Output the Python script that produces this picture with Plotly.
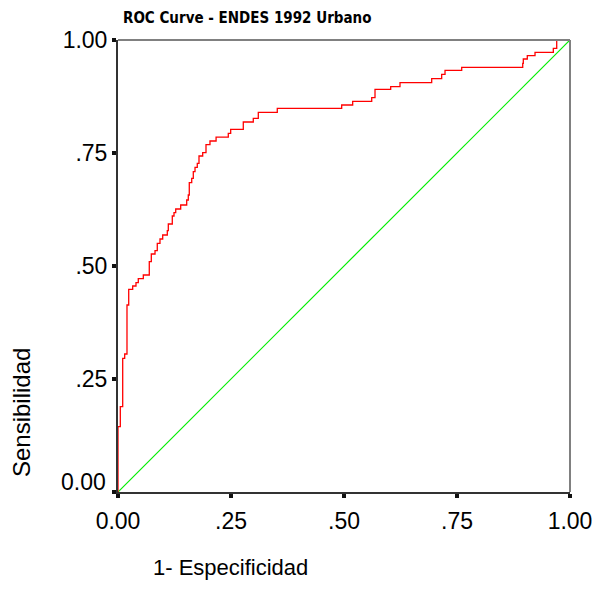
import plotly.graph_objects as go

# ROC step curve (1 - specificity, sensitivity)
fpr = [0.0, 0.0, 0.0051, 0.0104, 0.0148, 0.0199, 0.0237, 0.0325, 0.0398, 0.0449,
       0.0560, 0.0692, 0.0737, 0.0819, 0.0869, 0.0929, 0.0989, 0.1091, 0.1113,
       0.1201, 0.1239, 0.1277, 0.1387, 0.1520, 0.1555, 0.1577, 0.1631, 0.1666,
       0.1704, 0.1754, 0.1792, 0.1874, 0.1947, 0.2035, 0.2170, 0.2440, 0.2493,
       0.2772, 0.2993, 0.3104, 0.3524, 0.4949, 0.5192, 0.5613, 0.5686, 0.6033,
       0.6239, 0.6940, 0.7161, 0.7235, 0.7604, 0.8954, 0.8967, 0.9055, 0.9226,
       0.9631, 0.9706, 1.0]
tpr = [0.0, 0.1445, 0.1887, 0.2958, 0.3053, 0.4137, 0.4485, 0.4558, 0.4631, 0.4719,
       0.4801, 0.5095, 0.5265, 0.5338, 0.5502, 0.5597, 0.5686, 0.5781, 0.5929,
       0.6106, 0.6179, 0.6261, 0.6350, 0.6460, 0.6571, 0.6843, 0.6940, 0.7086,
       0.7184, 0.7272, 0.7434, 0.7507, 0.7684, 0.7765, 0.7850, 0.7936, 0.8024,
       0.8186, 0.8268, 0.8400, 0.8489, 0.8562, 0.8644, 0.8723, 0.8909, 0.8967,
       0.9055, 0.9144, 0.9241, 0.9330, 0.9396, 0.9485, 0.9580, 0.9653, 0.9728,
       0.9816, 1.0, 1.0]

ref_x = [0.0, 1.0]
ref_y = [0.0, 1.0]

tick_vals = [0.0, 0.25, 0.5, 0.75, 1.0]
x_tick_text = ["0.00", ".25", ".50", ".75", "1.00"]
y_tick_text = ["", ".25", ".50", ".75", "1.00"]

title_text = "ROC Curve - ENDES 1992 Urbano"
x_title = "1- Especificidad"
y_title = "Sensibilidad"

FONT = "Liberation Sans, Arial, sans-serif"

fig = go.Figure()
fig.add_trace(go.Scatter(x=ref_x, y=ref_y, mode="lines",
                         line=dict(color="#00ee00", width=1.2), hoverinfo="skip"))
fig.add_trace(go.Scatter(x=fpr, y=tpr, mode="lines", line_shape="hv",
                         line=dict(color="#ff0000", width=1.3)))

axis_common = dict(range=[0, 1], tickvals=tick_vals, showgrid=False, zeroline=False,
                   showline=True, linecolor="#333333", linewidth=2, automargin=False,
                   ticks="outside", ticklen=4, tickwidth=4, tickcolor="#111111",
                   tickfont=dict(family=FONT, size=23, color="#000000"))

fig.update_layout(
    width=598, height=609,
    margin=dict(l=118, r=28, t=40, b=117),
    paper_bgcolor="white", plot_bgcolor="white",
    showlegend=False,
    xaxis=dict(**axis_common, ticktext=x_tick_text, ticklabelstandoff=3),
    yaxis=dict(**axis_common, ticktext=y_tick_text),
    shapes=[
        dict(type="line", xref="paper", yref="paper", x0=0, x1=1, y0=1, y1=1,
             line=dict(color="#808080", width=2)),
        dict(type="line", xref="paper", yref="paper", x0=1, x1=1, y0=0, y1=1,
             line=dict(color="#808080", width=2)),
    ],
    annotations=[
        dict(text="<b>" + title_text + "</b>", xref="paper", yref="paper",
             x=0.286, y=1.049, showarrow=False, xanchor="center", yanchor="middle",
             font=dict(family="DejaVu Sans Condensed, Liberation Sans Narrow, sans-serif",
                       size=15, color="#000")),
        dict(text=x_title, xref="paper", yref="paper", x=0.248, y=-0.166,
             showarrow=False, xanchor="center", yanchor="middle",
             font=dict(family=FONT, size=22, color="#000")),
        dict(text=y_title, xref="paper", yref="paper", x=-0.212, y=0.175,
             showarrow=False, xanchor="center", yanchor="middle", textangle=-90,
             font=dict(family=FONT, size=24, color="#000")),
        dict(text="0.00", xref="paper", yref="y", x=0, y=0, xshift=-10, yshift=10,
             showarrow=False, xanchor="right", yanchor="middle",
             font=dict(family=FONT, size=23, color="#000")),
    ],
)

fig.write_html("out.html", config={"displayModeBar": False},
               post_script="document.body.style.margin='0';document.body.style.overflow='hidden';")
